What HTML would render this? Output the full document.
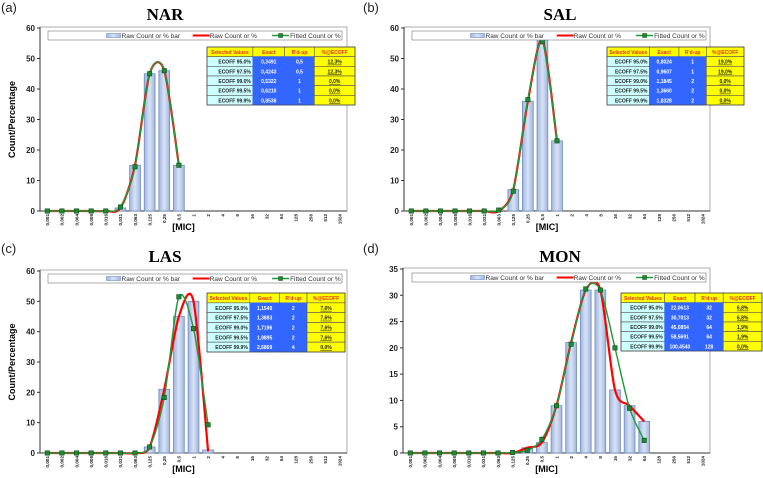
<!DOCTYPE html>
<html><head><meta charset="utf-8">
<style>
html,body{margin:0;padding:0;background:#fff;}
svg{display:block;font-family:"Liberation Sans",sans-serif;}
</style></head>
<body>
<svg id="chart" width="763" height="478" viewBox="0 0 763 478" xmlns="http://www.w3.org/2000/svg">
<defs>
<linearGradient id="barGrad" x1="0" y1="0" x2="1" y2="0">
<stop offset="0" stop-color="#9fb5df"/><stop offset="0.5" stop-color="#d9e3f5"/><stop offset="1" stop-color="#9fb5df"/>
</linearGradient>
</defs>
</svg>
<script>
const cats = ["0,001","0,002","0,004","0,008","0,016","0,031","0,063","0,125","0,25","0,5","1","2","4","8","16","32","64","128","256","512","1024"];

const narBars = [0,0,0,0,0,1,15,45,46,15,0,0,0,0,0,0,0,0,0,0,0];
const narRaw  = [0,0,0,0,0,1,15,45,46,15];
const narFit  = [0,0,0,0,0,1.3,14.5,45,46,15];
const narTable = [["ECOFF 95.0%","0,3491","0,5","12,3%"],["ECOFF 97.5%","0,4243","0,5","12,3%"],["ECOFF 99.0%","0,5322","1","0,0%"],["ECOFF 99.5%","0,6210","1","0,0%"],["ECOFF 99.9%","0,8538","1","0,0%"]];

const salBars = [0,0,0,0,0,0,0,7,36,56,23,0,0,0,0,0,0,0,0,0,0];
const salRaw  = [0,0,0,0,0,0,0,7,36,56,23];
const salFit  = [0,0,0,0,0,0,0.3,6.5,36.5,55.5,23];
const salTable = [["ECOFF 95.0%","0,8024","1","19,0%"],["ECOFF 97.5%","0,9607","1","19,0%"],["ECOFF 99.0%","1,1845","2","0,0%"],["ECOFF 99.5%","1,3660","2","0,0%"],["ECOFF 99.9%","1,8328","2","0,0%"]];

const lasBars = [0,0,0,0,0,0,0,2,21,45,50,1,0,0,0,0,0,0,0,0,0];
const lasRaw  = [0,0,0,0,0,0,0,2,21,45,50,0.5];
const lasFit  = [0,0,0,0,0,0,0,2,18.3,51.5,41,9.3];
const lasTable = [["ECOFF 95.0%","1,1549","2","7,6%"],["ECOFF 97.5%","1,3883","2","7,6%"],["ECOFF 99.0%","1,7196","2","7,6%"],["ECOFF 99.5%","1,9895","2","7,6%"],["ECOFF 99.9%","2,6869","4","0,0%"]];

const monBars = [0,0,0,0,0,0,0,0,1,2,9,21,31,31,12,9,6,0,0,0,0];
const monRaw  = [0,0,0,0,0,0,0,0,1,2,9,21,31,31,12,9,6];
const monFit  = [0,0,0,0,0,0,0,0.1,0.5,2.6,9,20.7,31.2,31,20,8.5,2.4];
const monTable = [["ECOFF 95.0%","22,0613","32","6,8%"],["ECOFF 97.5%","30,7013","32","6,8%"],["ECOFF 99.0%","45,0854","64","1,9%"],["ECOFF 99.5%","58,5691","64","1,9%"],["ECOFF 99.9%","100,4540","128","0,0%"]];

const yTicksA = [0,10,20,30,40,50,60];
const yTicksD = [0,5,10,15,20,25,30,35];

const NS = "http://www.w3.org/2000/svg";
const svg = document.getElementById("chart");
function mk(tag, attrs, parent, text){
  const e = document.createElementNS(NS, tag);
  for (const k in attrs) e.setAttribute(k, attrs[k]);
  if (text !== undefined) e.textContent = text;
  (parent || svg).appendChild(e);
  return e;
}
function smoothPath(pts){
  let d = "M" + pts[0][0] + "," + pts[0][1];
  for (let i = 0; i < pts.length - 1; i++){
    const p0 = pts[Math.max(i-1,0)], p1 = pts[i], p2 = pts[i+1], p3 = pts[Math.min(i+2, pts.length-1)];
    const t = 7;
    const c1x = p1[0] + (p2[0]-p0[0])/t, c1y = p1[1] + (p2[1]-p0[1])/t;
    const c2x = p2[0] - (p3[0]-p1[0])/t, c2y = p2[1] - (p3[1]-p1[1])/t;
    d += " C" + c1x + "," + c1y + " " + c2x + "," + c2y + " " + p2[0] + "," + p2[1];
  }
  return d;
}

function panel(id, letter, title, L, bars, raw, fit, table, ticks, showYLabel){
  const g = mk("g", {});
  
  
  const step = (L.x1 - L.x0) / cats.length;
  const xc = i => L.x0 + step * (i + 0.5);
  const ys = v => L.yZero - (v / L.ymax) * (L.yZero - L.yTop);

  const lt = mk("text", {x: L.lx, y: L.ly, "font-size": 13, fill: "#222"}, g, "(" + letter + ")");
  
  
  const tt = mk("text", {x: L.tx, y: L.ty, "font-size": 17, "font-weight": "bold", "text-anchor": "middle", "font-family": "Liberation Serif, serif"}, g, title);
  
  

  const fr = mk("rect", {x: L.x0, y: L.yTop - 1, width: L.x1 - L.x0, height: L.yZero - L.yTop + 1, fill: "none", stroke: "#9a9a9a", "stroke-width": 0.8}, g);
  
  

  const ya = mk("line", {x1: L.x0, y1: L.yTop - 1, x2: L.x0, y2: L.yZero, stroke: "#333", "stroke-width": 1}, g);
  
  
  ticks.forEach(v => {
    const y = ys(v);
    mk("line", {x1: L.x0 - 3, y1: y, x2: L.x0, y2: y, stroke: "#333"}, g);
    const t = mk("text", {x: L.x0 - 5, y: y + 3, "font-size": 8, "font-weight": "bold", "text-anchor": "end", fill: "#222"}, g, v);
    
    
  });
  if (showYLabel){
    const yl = mk("text", {x: 0, y: 0, "font-size": 9, "font-weight": "bold", "text-anchor": "middle", transform: "translate(15," + ((L.yTop + L.yZero)/2) + ") rotate(-90)"}, g, "Count/Percentage");
    
    
  }
  const xa = mk("line", {x1: L.x0, y1: L.yZero, x2: L.x1, y2: L.yZero, stroke: "#333", "stroke-width": 1}, g);
  
  
  cats.forEach((c, i) => {
    const t = mk("text", {x: 0, y: 0, "font-size": 4.6, "font-weight": "bold", "text-anchor": "end", transform: "translate(" + (xc(i) + 1.8) + "," + (L.yZero + 3) + ") rotate(-90)", fill: "#222"}, g, c);
    
    
  });
  const xt = mk("text", {x: (L.x0 + L.x1)/2 - 10, y: L.yZero + 19, "font-size": 9, "font-weight": "bold", "text-anchor": "middle"}, g, "[MIC]");
  
  

  bars.forEach((v, i) => {
    if (!v) return;
    const y = ys(v);
    const b = mk("rect", {x: xc(i) - step*0.37, y: y, width: step*0.74, height: L.yZero - y, fill: "url(#barGrad)", stroke: "#6f8cc2", "stroke-width": 0.8}, g);
    
    
  });
  const rp = raw.map((v, i) => [xc(i), ys(v)]);
  const rl = mk("path", {d: smoothPath(rp), fill: "none", stroke: "#ff0000", "stroke-width": 2.2}, g);
  
  
  const fp = fit.map((v, i) => [xc(i), ys(v)]);
  const fl = mk("path", {d: smoothPath(fp), fill: "none", stroke: "#1f9a3f", "stroke-width": 1.4}, g);
  
  
  fp.forEach((p, i) => {
    const m = mk("rect", {x: p[0] - 2.2, y: p[1] - 2.2, width: 4.4, height: 4.4, fill: "#1d8a33", stroke: "#0b4d16", "stroke-width": 0.6}, g);
    
    
  });

  const lg = mk("g", {}, g);
  
  
  mk("rect", {x: L.lgx0, y: L.lgy, width: L.lgx1 - L.lgx0, height: 9, fill: "#fff", stroke: "#8a8a8a", "stroke-width": 0.7}, lg);
  const w = L.lgx1 - L.lgx0;
  const e1 = L.lgx0 + w*0.25, e2 = L.lgx0 + w*0.55, e3 = L.lgx0 + w*0.82;
  mk("rect", {x: e1 - 15, y: L.lgy + 2.5, width: 14, height: 4, fill: "url(#barGrad)", stroke: "#6f8cc2", "stroke-width": 0.6}, lg);
  mk("text", {x: e1, y: L.lgy + 7, "font-size": 6.5, fill: "#333"}, lg, "Raw Count or % bar");
  mk("line", {x1: e2 - 17, y1: L.lgy + 4.5, x2: e2, y2: L.lgy + 4.5, stroke: "#ff0000", "stroke-width": 2}, lg);
  mk("text", {x: e2, y: L.lgy + 7, "font-size": 6.5, fill: "#333"}, lg, "Raw Count or %");
  mk("line", {x1: e3 - 17, y1: L.lgy + 4.5, x2: e3, y2: L.lgy + 4.5, stroke: "#1f9a3f", "stroke-width": 1.4}, lg);
  mk("rect", {x: e3 - 10.5, y: L.lgy + 2.5, width: 4, height: 4, fill: "#1d8a33", stroke: "#0b4d16", "stroke-width": 0.5}, lg);
  mk("text", {x: e3 + 1, y: L.lgy + 7, "font-size": 6.5, fill: "#333"}, lg, "Fitted Count or %");

  const tg = mk("g", {}, g);
  
  
  const cw = L.tw.map(f => f * (L.tbx1 - L.tbx0));
  const rh = (L.tby1 - L.tby0) / 6;
  const heads = ["Selected Values","Exact","R'd-up","%@ECOFF"];
  const fills = ["#ccffff","#3366ff","#3366ff","#ffff00"];
  const tcol = ["#222","#fff","#fff","#222"];
  let x = L.tbx0;
  heads.forEach((h, c) => {
    mk("rect", {x: x, y: L.tby0, width: cw[c], height: rh, fill: "#ffff00", stroke: "#555", "stroke-width": 0.6}, tg);
    mk("text", {x: x + cw[c]/2, y: L.tby0 + rh*0.72, "font-size": 5, "font-weight": "bold", "text-anchor": "middle", fill: "#e0301e"}, tg, h);
    for (let r = 0; r < table.length; r++){
      const yy = L.tby0 + rh*(r+1);
      mk("rect", {x: x, y: yy, width: cw[c], height: rh, fill: fills[c], stroke: c==1||c==2 ? "#3366ff" : "#555", "stroke-width": 0.6}, tg);
      mk("text", {x: c==0 ? x + cw[c] - 2 : x + cw[c]/2, y: yy + rh*0.72, "font-size": 5, "font-weight": "bold", "text-anchor": c==0 ? "end" : "middle", fill: tcol[c], "text-decoration": c==3 ? "underline" : "none"}, tg, table[r][c]);
    }
    x += cw[c];
  });
  mk("rect", {x: L.tbx0, y: L.tby0, width: L.tbx1 - L.tbx0, height: L.tby1 - L.tby0, fill: "none", stroke: "#444", "stroke-width": 0.7}, tg);
}

const TW = [0.31, 0.215, 0.2, 0.275];
panel("nar","a","NAR",{x0:40,x1:347,yTop:28,yZero:211,ymax:60,lx:1,ly:12,tx:165,ty:20,lgx0:48,lgx1:342,lgy:31,tbx0:207,tbx1:355,tby0:47,tby1:105,tw:TW}, narBars, narRaw, narFit, narTable, yTicksA, true);
panel("sal","b","SAL",{x0:404,x1:710,yTop:28,yZero:211,ymax:60,lx:363,ly:12,tx:560,ty:20,lgx0:412,lgx1:706,lgy:31,tbx0:607,tbx1:744,tby0:47,tby1:105,tw:TW}, salBars, salRaw, salFit, salTable, yTicksA, false);
panel("las","c","LAS",{x0:40,x1:347,yTop:271,yZero:453,ymax:60,lx:1,ly:253,tx:165,ty:262,lgx0:48,lgx1:342,lgy:274,tbx0:207,tbx1:345,tby0:293,tby1:352,tw:TW}, lasBars, lasRaw, lasFit, lasTable, yTicksA, true);
panel("mon","d","MON",{x0:403,x1:710,yTop:269,yZero:453,ymax:35,lx:363,ly:253,tx:560,ty:262,lgx0:412,lgx1:706,lgy:273,tbx0:621,tbx1:762,tby0:293,tby1:351,tw:TW}, monBars, monRaw, monFit, monTable, yTicksD, false);
</script>
</body></html>
